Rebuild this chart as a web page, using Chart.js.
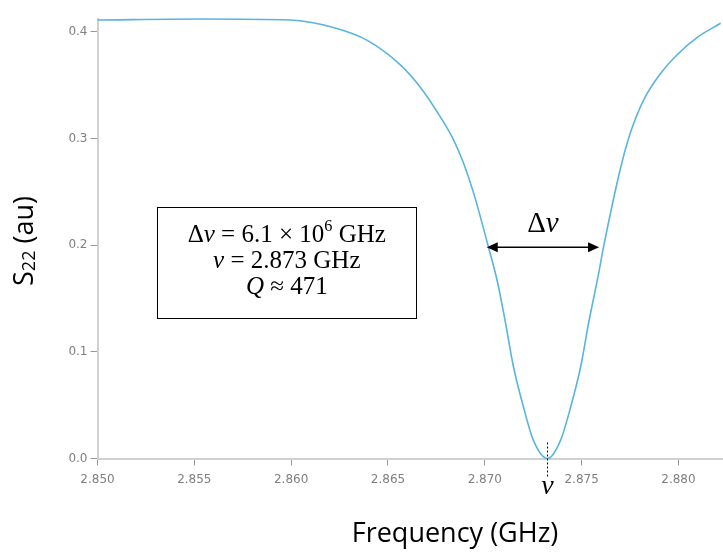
<!DOCTYPE html>
<html>
<head>
<meta charset="utf-8">
<script src="https://cdn.jsdelivr.net/npm/chart.js@4.4.1/dist/chart.umd.min.js"></script>
<style>
  html, body { margin: 0; padding: 0; background: #fff; }
  #wrap { width: 723px; height: 552px; position: relative; }
</style>
</head>
<body>
<div id="wrap"><canvas id="chart" width="723" height="552"></canvas></div>
<script>
// frequency (GHz) and S22
const freqs = [2.85000, 2.85530, 2.85995, 2.86218, 2.86393, 2.86564, 2.86667, 2.86771, 2.86838,
  2.86890, 2.86942, 2.87019, 2.87066, 2.87107, 2.87148, 2.87200, 2.87251, 2.87324,
  2.87391, 2.87443, 2.87495, 2.87536, 2.87583, 2.87614, 2.87702, 2.87753, 2.87820,
  2.87908, 2.87996, 2.88099, 2.88218];
const s22 = [0.411, 0.412, 0.411, 0.404, 0.392, 0.369, 0.348, 0.320, 0.299,
  0.277, 0.249, 0.198, 0.165, 0.127, 0.086, 0.048, 0.017, 0.000,
  0.017, 0.048, 0.086, 0.127, 0.169, 0.199, 0.273, 0.306, 0.336,
  0.361, 0.379, 0.395, 0.408];
const xTicks = [2.850, 2.855, 2.860, 2.865, 2.870, 2.875, 2.880];
const yTicks = [0.0, 0.1, 0.2, 0.3, 0.4];

const centerFreq = 2.87324;
const halfLeft = 2.8701, halfRight = 2.8759, halfLevel = 0.2;
const boxLines = [
  [{ t: 'Δ' }, { t: 'ν', i: true }, { t: ' = 6.1 × 10' }, { t: '6', sup: true }, { t: ' GHz' }],
  [{ t: 'ν', i: true }, { t: ' = 2.873 GHz' }],
  [{ t: 'Q', i: true }, { t: ' ≈ 471' }]
];

const serif = '"Liberation Serif", "DejaVu Serif", serif';
const sans = '"Open Sans", sans-serif';

function drawRich(ctx, parts, cx, y, size) {
  const fontOf = p => (p.i ? 'italic ' : '') + (p.sup ? size * 0.65 : size) + 'px ' + serif;
  let w = 0;
  parts.forEach(p => { ctx.font = fontOf(p); w += ctx.measureText(p.t).width; });
  let x = cx - w / 2;
  ctx.textAlign = 'left';
  ctx.textBaseline = 'middle';
  parts.forEach(p => {
    ctx.font = fontOf(p);
    ctx.fillText(p.t, x, p.sup ? y - size * 0.35 : y);
    x += ctx.measureText(p.t).width;
  });
}

const annotations = {
  id: 'annotations',
  afterDraw(chart) {
    const { ctx, scales: { x, y } } = chart;
    ctx.save();
    ctx.fillStyle = '#000';
    ctx.strokeStyle = '#000';

    // axis titles
    ctx.font = '27px ' + sans;
    ctx.textAlign = 'center';
    ctx.textBaseline = 'alphabetic';
    ctx.fillText('Frequency (GHz)', 455, 542);

    ctx.save();
    ctx.translate(25, 241);
    ctx.rotate(-Math.PI / 2);
    ctx.textBaseline = 'middle';
    ctx.font = '27px ' + sans;
    const sW = ctx.measureText('S').width;
    ctx.font = '18px ' + sans;
    const subW = ctx.measureText('22').width;
    ctx.font = '27px ' + sans;
    const restW = ctx.measureText(' (au)').width;
    let tx = -(sW + subW + restW) / 2;
    ctx.textAlign = 'left';
    ctx.fillText('S', tx, 0); tx += sW;
    ctx.font = '18px ' + sans;
    ctx.fillText('22', tx, 5); tx += subW;
    ctx.font = '27px ' + sans;
    ctx.fillText(' (au)', tx, 0);
    ctx.restore();

    // parameter box
    const bl = x.getPixelForValue(2.85308), br = x.getPixelForValue(2.86647);
    const bt = y.getPixelForValue(0.2357), bb = y.getPixelForValue(0.1317);
    ctx.lineWidth = 1;
    ctx.fillStyle = '#fff';
    ctx.fillRect(bl, bt, br - bl, bb - bt);
    ctx.strokeRect(Math.round(bl) + 0.5, Math.round(bt) + 0.5, Math.round(br - bl), Math.round(bb - bt));
    ctx.fillStyle = '#000';
    const bc = (bl + br) / 2;
    boxLines.forEach((line, k) => drawRich(ctx, line, bc, bt + 28 + k * 26, 25));

    // linewidth arrow
    const ax1 = x.getPixelForValue(halfLeft), ax2 = x.getPixelForValue(halfRight);
    const ay = y.getPixelForValue(halfLevel) + 2;
    ctx.lineWidth = 1.5;
    ctx.beginPath();
    ctx.moveTo(ax1 + 8, ay);
    ctx.lineTo(ax2 - 8, ay);
    ctx.stroke();
    [[ax1, 1], [ax2, -1]].forEach(([px, d]) => {
      ctx.beginPath();
      ctx.moveTo(px, ay);
      ctx.lineTo(px + d * 11, ay - 5);
      ctx.lineTo(px + d * 11, ay + 5);
      ctx.closePath();
      ctx.fill();
    });
    drawRich(ctx, [{ t: 'Δ' }, { t: 'ν', i: true }], (ax1 + ax2) / 2, ay - 23, 29);

    // centre frequency marker
    const cxp = x.getPixelForValue(centerFreq);
    ctx.lineWidth = 1;
    ctx.setLineDash([2, 2]);
    ctx.beginPath();
    ctx.moveTo(cxp, y.getPixelForValue(0.015));
    ctx.lineTo(cxp, y.getPixelForValue(0) + 18);
    ctx.stroke();
    ctx.setLineDash([]);
    drawRich(ctx, [{ t: 'ν', i: true }], cxp, y.getPixelForValue(0) + 28, 28);
    ctx.restore();
  }
};

const tickFont = { family: '"DejaVu Sans", sans-serif', size: 12 };

new Chart(document.getElementById('chart').getContext('2d'), {
  type: 'line',
  data: {
    datasets: [{
      data: freqs.map((f, k) => ({ x: f, y: s22[k] })),
      borderColor: '#5ab4e0',
      borderWidth: 1.6,
      pointRadius: 0,
      cubicInterpolationMode: 'monotone',
      fill: false,
      clip: false
    }]
  },
  options: {
    responsive: false,
    animation: false,
    events: [],
    layout: { padding: { top: 19, right: 0, left: 0, bottom: 0 } },
    plugins: { legend: { display: false }, tooltip: { enabled: false } },
    scales: {
      x: {
        type: 'linear',
        min: 2.850,
        max: 2.8823,
        afterBuildTicks: s => { s.ticks = xTicks.map(v => ({ value: v })); },
        afterFit: s => { s.height = 93.5; },
        border: { color: '#d0d0d0', width: 2 },
        grid: { drawOnChartArea: false, drawTicks: true, tickLength: 7, color: '#999' },
        ticks: { color: '#808080', font: tickFont, padding: 7, maxRotation: 0, autoSkip: false,
          callback: v => v.toFixed(3) }
      },
      y: {
        min: 0,
        max: 0.412,
        afterBuildTicks: s => { s.ticks = yTicks.map(v => ({ value: v })); },
        afterFit: s => { s.width = 97.5; },
        border: { color: '#d0d0d0', width: 2 },
        grid: { drawOnChartArea: false, drawTicks: true, tickLength: 7, color: '#999' },
        ticks: { color: '#808080', font: tickFont, padding: 3, callback: v => v.toFixed(1) }
      }
    }
  },
  plugins: [annotations]
});
</script>
</body>
</html>
